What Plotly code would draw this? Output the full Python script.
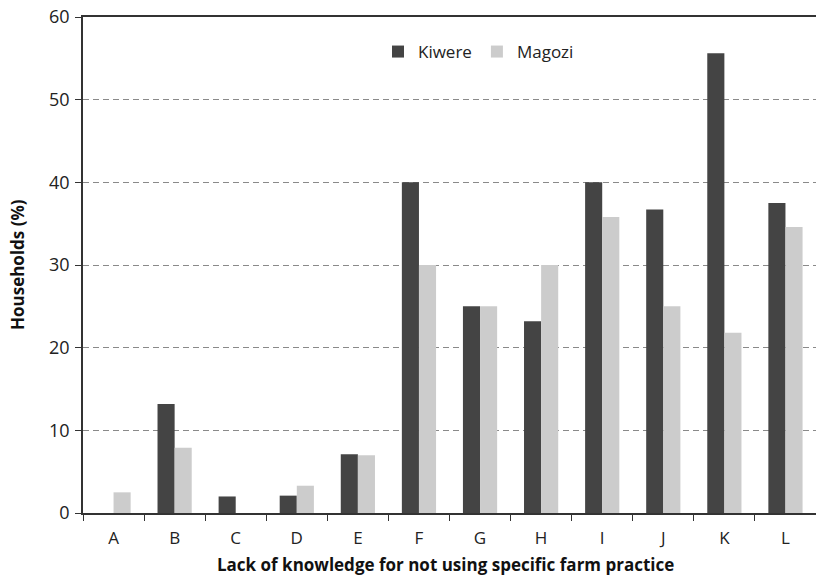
import plotly.graph_objects as go

categories = ["A", "B", "C", "D", "E", "F", "G", "H", "I", "J", "K", "L"]
kiwere = [0, 13.2, 2.0, 2.1, 7.1, 40.0, 25.0, 23.2, 40.0, 36.7, 55.6, 37.5]
magozi = [2.5, 7.9, 0, 3.3, 7.0, 30.0, 25.0, 30.0, 35.8, 25.0, 21.8, 34.6]
y_ticks = [0, 10, 20, 30, 40, 50, 60]

FONT = "Open Sans"
W, H = 816, 579
L, R, T, B = 83, 0, 17, 66
pw, ph = W - L - R, H - T - B


def px_x(page_x):
    return (page_x - L) / pw


def px_y(page_y):
    return (H - B - page_y) / ph


fig = go.Figure()
fig.add_trace(go.Bar(name="Kiwere", x=categories, y=kiwere,
                     marker=dict(color="#444444", line=dict(width=0))))
fig.add_trace(go.Bar(name="Magozi", x=categories, y=magozi,
                     marker=dict(color="#cccccc", line=dict(width=0))))

fig.update_layout(
    width=W, height=H,
    margin=dict(l=L, r=R, t=T, b=B, autoexpand=False),
    plot_bgcolor="white", paper_bgcolor="white",
    barmode="group", bargap=0.44, bargroupgap=0,
    font=dict(family=FONT, size=17, color="#222222"),
    legend=dict(orientation="h", x=px_x(378), y=px_y(34),
                xanchor="left", yanchor="top",
                font=dict(family=FONT, size=17, color="#222222"),
                itemwidth=30, tracegroupgap=0, bgcolor="rgba(0,0,0,0)"),
    xaxis=dict(
        automargin=False,
        showline=True, linecolor="#333333", linewidth=1.5, mirror=True,
        ticks="outside", tickson="boundaries", ticklen=6, tickcolor="#333333",
        tickfont=dict(family=FONT, size=17, color="#222222"),
        ticklabelstandoff=9,
        showgrid=False,
    ),
    yaxis=dict(
        automargin=False,
        range=[0, 60], tickvals=y_ticks,
        showline=True, linecolor="#333333", linewidth=1.5,
        ticks="outside", ticklen=6, tickcolor="#333333",
        tickfont=dict(family=FONT, size=18, color="#222222"),
        ticklabelstandoff=2,
        showgrid=True, gridcolor="#8a8a8a", griddash="6px,4px", gridwidth=1,
        zeroline=False,
    ),
    annotations=[
        dict(text="<b>Households (%)</b>", xref="paper", yref="paper",
             x=px_x(17), y=px_y(265), xanchor="center", yanchor="middle",
             textangle=-90, showarrow=False,
             font=dict(family=FONT, size=17, color="#111111")),
        dict(text="<b>Lack of knowledge for not using specific farm practice</b>",
             xref="paper", yref="paper",
             x=px_x(445), y=px_y(564),
             xanchor="center", yanchor="middle", showarrow=False,
             font=dict(family=FONT, size=17, color="#111111")),
    ],
)

fig.write_html("out.html", config={"displayModeBar": False},
               post_script="document.body.style.margin='0px';")
